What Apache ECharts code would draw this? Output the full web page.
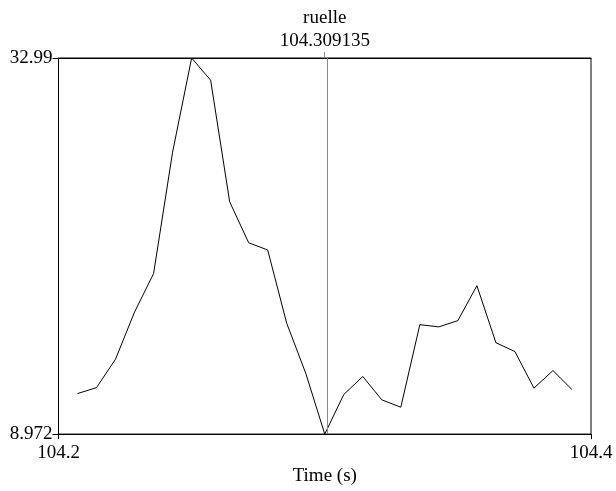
<!DOCTYPE html>
<html>
<head>
<meta charset="utf-8">
<script src="https://cdn.jsdelivr.net/npm/echarts@6/dist/echarts.min.js"></script>
<style>
  html, body { margin: 0; padding: 0; background: #fff; }
  #chart { width: 616px; height: 491px; }
</style>
</head>
<body>
<div id="chart"></div>
<script>
// Sample times (s), 140 Hz around the cursor
const times = [
  104.216278, 104.223421, 104.230564, 104.237706, 104.244849, 104.251992,
  104.259135, 104.266278, 104.273421, 104.280564, 104.287706, 104.294849,
  104.301992, 104.309135, 104.316278, 104.323421, 104.330564, 104.337706,
  104.344849, 104.351992, 104.359135, 104.366278, 104.373421, 104.380564,
  104.387706, 104.394849, 104.401992
];
// Signal values
const values = [
  11.56, 11.94, 13.76, 16.77, 19.22, 26.98,
  32.99, 31.57, 23.81, 21.19, 20.73, 16.05,
  12.86, 8.972, 11.50, 12.65, 11.16, 10.69,
  15.96, 15.82, 16.22, 18.45, 14.81, 14.24,
  11.91, 13.03, 11.82
];
// Cursor
const cursorName = 'ruelle';
const cursorTime = 104.309135;
// Axis ranges and tick labels
const xMin = 104.209135, xMax = 104.409135;
const xTickLabels = ['104.2', '104.4'];
const yMin = 8.972, yMax = 32.99;
const yTickLabels = ['8.972', '32.99'];

const font = { fontFamily: 'Liberation Serif', fontSize: 19, color: '#000' };

const chart = echarts.init(document.getElementById('chart'), null, { renderer: 'canvas' });
chart.setOption({
  animation: false,
  backgroundColor: '#fff',
  grid: {
    left: 58.5, right: 25, top: 58, bottom: 56.5,
    show: true, borderColor: '#000', borderWidth: 1, backgroundColor: 'transparent'
  },
  xAxis: [{
    type: 'value',
    min: xMin, max: xMax, interval: xMax - xMin,
    name: 'Time (s)', nameLocation: 'middle', nameGap: 32,
    nameTextStyle: font,
    axisLine: { show: true, lineStyle: { color: '#000', width: 1 } },
    axisTick: { show: true, length: 5, customValues: [xMin, xMax], lineStyle: { color: '#000', width: 1 } },
    axisLabel: Object.assign({
      margin: 9, customValues: [xMin, xMax],
      formatter: (v) => (v < (xMin + xMax) / 2 ? xTickLabels[0] : xTickLabels[1])
    }, font),
    splitLine: { show: false }
  }, {
    type: 'value', position: 'top',
    min: xMin, max: xMax,
    axisLine: { show: true, lineStyle: { color: '#000', width: 1 } },
    axisTick: { show: true, length: 6, customValues: [cursorTime], lineStyle: { color: '#888' } },
    axisLabel: Object.assign({
      margin: 5, customValues: [cursorTime], lineHeight: 23,
      formatter: () => cursorName + '\n' + cursorTime.toFixed(6)
    }, font),
    splitLine: { show: false }
  }],
  yAxis: {
    type: 'value',
    min: yMin, max: yMax, interval: yMax - yMin,
    axisLine: { show: true, lineStyle: { color: '#000', width: 1 } },
    axisTick: { show: true, length: 6, customValues: [yMin, yMax], lineStyle: { color: '#000', width: 1 } },
    axisLabel: Object.assign({
      margin: 6, customValues: [yMin, yMax],
      formatter: (v) => (v < (yMin + yMax) / 2 ? yTickLabels[0] : yTickLabels[1])
    }, font),
    splitLine: { show: false }
  },
  series: [{
    type: 'line',
    xAxisIndex: 0,
    data: times.map((t, i) => [t, values[i]]),
    symbol: 'none',
    lineStyle: { color: '#000', width: 1 },
    markLine: {
      silent: true, symbol: 'none', label: { show: false },
      lineStyle: { color: '#888', width: 1, type: 'solid' },
      data: [{ xAxis: cursorTime }]
    }
  }]
});
</script>
</body>
</html>
